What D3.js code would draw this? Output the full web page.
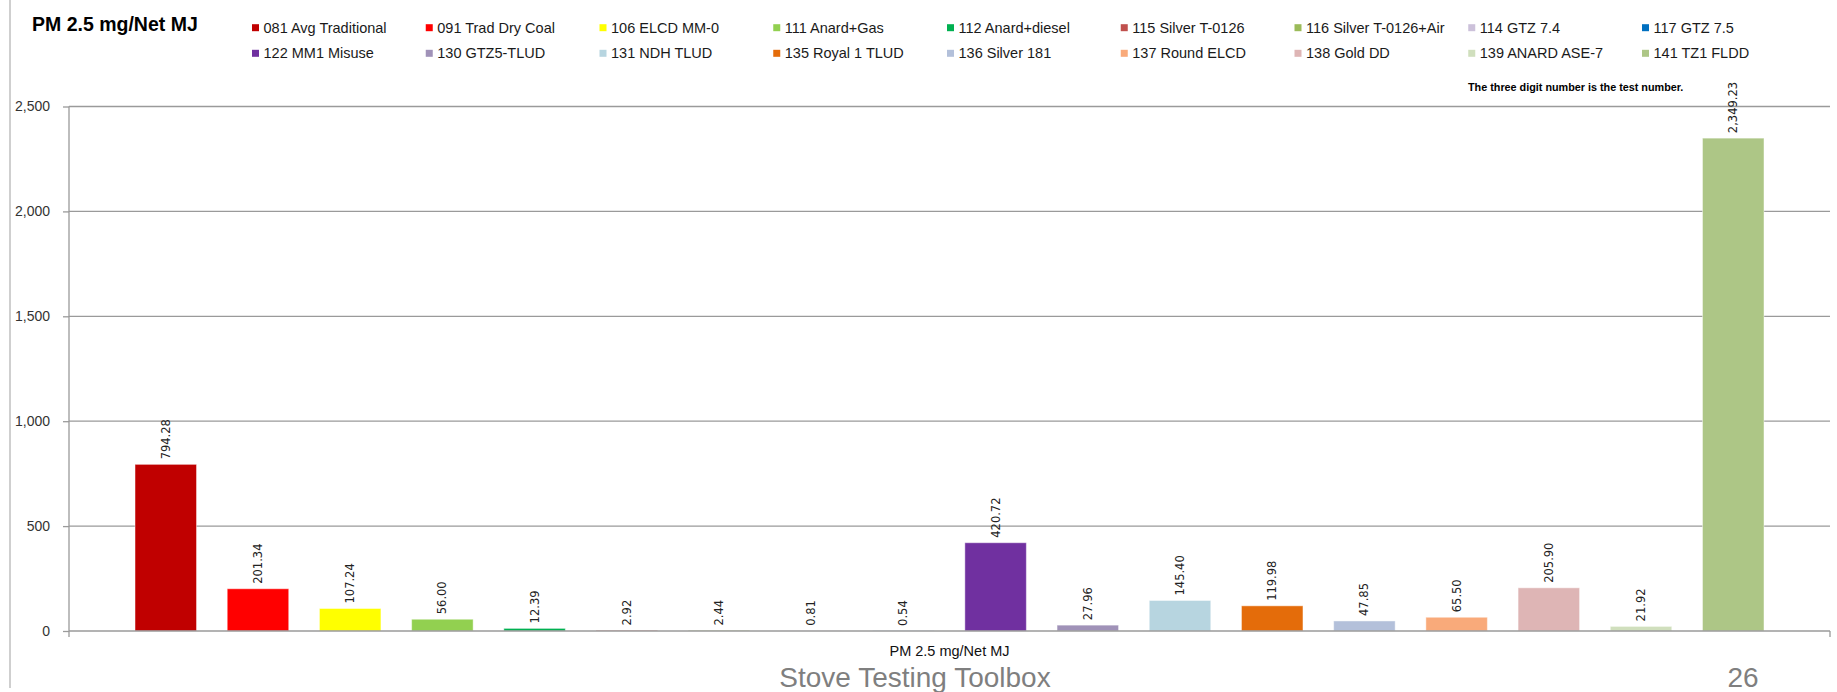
<!DOCTYPE html>
<html>
<head>
<meta charset="utf-8">
<script src="https://cdn.jsdelivr.net/npm/d3@7/dist/d3.min.js"></script>
<style>
  html, body { margin: 0; padding: 0; background: #ffffff; }
  svg { display: block; }
  text { font-family: "Liberation Sans", Arial, sans-serif; }
</style>
</head>
<body>
<svg id="chart" width="1837" height="692"></svg>
<script>
// ---- data ----
const categories = [
  "081 Avg Traditional", "091 Trad Dry Coal", "106 ELCD MM-0", "111 Anard+Gas",
  "112 Anard+diesel", "115 Silver T-0126", "116 Silver T-0126+Air", "114 GTZ 7.4",
  "117 GTZ 7.5", "122 MM1 Misuse", "130 GTZ5-TLUD", "131 NDH TLUD",
  "135 Royal 1 TLUD", "136 Silver 181", "137 Round ELCD", "138 Gold DD",
  "139 ANARD ASE-7", "141 TZ1 FLDD"
];
const values = [
  794.28, 201.34, 107.24, 56.00,
  12.39, 2.92, 2.44, 0.81,
  0.54, 420.72, 27.96, 145.40,
  119.98, 47.85, 65.50, 205.90,
  21.92, 2349.23
];
const colors = [
  "#C00000", "#FF0000", "#FFFF00", "#92D050",
  "#00B050", "#C0504D", "#9BBB59", "#CCC1DA",
  "#0070C0", "#7030A0", "#A092B8", "#B7D5E0",
  "#E46C0A", "#B3C0DA", "#F9AA7A", "#DEB5B5",
  "#D0DFBD", "#ADC686"
];
const yTicks = [0, 500, 1000, 1500, 2000, 2500];
const chartTitle = "PM 2.5 mg/Net MJ";
const xAxisLabel = "PM 2.5 mg/Net MJ";
const noteText = "The three digit  number is the test number.";
const footerText = "Stove Testing Toolbox";
const pageNumber = "26";

// ---- layout ----
const svg = d3.select("#chart");
const plot = { left: 69, right: 1830, top: 106.5, bottom: 631 };

const x = d3.scaleBand()
  .domain(categories)
  .range([plot.left, plot.right])
  .paddingInner(0.333)
  .paddingOuter(0.716);

const y = d3.scaleLinear()
  .domain([0, 2500])
  .range([plot.bottom, plot.top]);

const color = d3.scaleOrdinal().domain(categories).range(colors);

// slide border
svg.append("line")
  .attr("x1", 10).attr("x2", 10).attr("y1", 0).attr("y2", 688)
  .attr("stroke", "#bfbfbf").attr("stroke-width", 1.5);

// gridlines
svg.append("g")
  .selectAll("line")
  .data(yTicks.filter(d => d > 0))
  .join("line")
  .attr("x1", plot.left).attr("x2", plot.right)
  .attr("y1", d => y(d)).attr("y2", d => y(d))
  .attr("stroke", "#9a9a9a").attr("stroke-width", 1.3);

// y axis
const yAxis = d3.axisLeft(y)
  .tickValues(yTicks)
  .tickFormat(d3.format(","))
  .tickSize(6)
  .tickPadding(13);
const gy = svg.append("g")
  .attr("transform", `translate(${plot.left},0)`)
  .call(yAxis);
gy.select(".domain").remove();
gy.selectAll(".tick line").attr("stroke", "#9a9a9a").attr("stroke-width", 1.3);
gy.selectAll(".tick text")
  .attr("fill", "#333")
  .style("font-size", "14px")
  .style("font-family", "'Liberation Sans', Arial, sans-serif");
svg.append("line")
  .attr("x1", plot.left).attr("x2", plot.left)
  .attr("y1", plot.top).attr("y2", plot.bottom + 6)
  .attr("stroke", "#9a9a9a").attr("stroke-width", 1.3);

// bars
svg.append("g")
  .selectAll("rect")
  .data(categories)
  .join("rect")
  .attr("x", d => x(d))
  .attr("width", x.bandwidth())
  .attr("y", (d, i) => y(values[i]))
  .attr("height", (d, i) => y(0) - y(values[i]))
  .attr("fill", d => color(d))
  .attr("stroke", "rgba(255,255,255,0.45)")
  .attr("stroke-width", 1);

// x axis baseline
svg.append("line")
  .attr("x1", plot.left).attr("x2", plot.right)
  .attr("y1", y(0)).attr("y2", y(0))
  .attr("stroke", "#9a9a9a").attr("stroke-width", 1.3);
svg.append("line")
  .attr("x1", plot.right).attr("x2", plot.right)
  .attr("y1", y(0)).attr("y2", y(0) + 6)
  .attr("stroke", "#9a9a9a").attr("stroke-width", 1.3);

// data labels (rotated)
const fmt = d3.format(",.2f");
svg.append("g")
  .selectAll("text")
  .data(categories)
  .join("text")
  .attr("transform", (d, i) => `translate(${x(d) + x.bandwidth() / 2},${y(values[i]) - 5}) rotate(-90)`)
  .attr("dy", "0.35em")
  .attr("text-anchor", "start")
  .style("font-family", "'DejaVu Sans', Verdana, sans-serif")
  .style("font-size", "11.5px")
  .attr("fill", "#222")
  .text((d, i) => fmt(values[i]));

// x axis label
svg.append("text")
  .attr("x", (plot.left + plot.right) / 2)
  .attr("y", 656)
  .attr("text-anchor", "middle")
  .style("font-size", "14.5px")
  .attr("fill", "#111")
  .text(xAxisLabel);

// title
svg.append("text")
  .attr("x", 32).attr("y", 31)
  .style("font-size", "19.5px")
  .style("font-weight", "bold")
  .attr("fill", "#000")
  .text(chartTitle);

// legend
const legendCols = 9, colStep = 173.75, legendX0 = 252;
const rowY = [27.7, 53.3];
const lg = svg.append("g")
  .selectAll("g")
  .data(categories)
  .join("g")
  .attr("transform", (d, i) => `translate(${legendX0 + (i % legendCols) * colStep},${rowY[Math.floor(i / legendCols)]})`);
lg.append("rect")
  .attr("x", 0).attr("y", -3.5)
  .attr("width", 7).attr("height", 7)
  .attr("fill", d => color(d));
lg.append("text")
  .attr("x", 11.5).attr("y", 5)
  .style("font-size", "14.5px")
  .attr("fill", "#1a1a1a")
  .text(d => d);

// note
svg.append("text")
  .attr("x", 1468).attr("y", 90.5)
  .style("font-size", "10.8px")
  .style("font-weight", "bold")
  .attr("fill", "#000")
  .text(noteText);

// footer
svg.append("text")
  .attr("x", 915).attr("y", 687)
  .attr("text-anchor", "middle")
  .style("font-size", "28px")
  .attr("fill", "#7f7f7f")
  .text(footerText);
svg.append("text")
  .attr("x", 1743).attr("y", 687)
  .attr("text-anchor", "middle")
  .style("font-size", "28px")
  .attr("fill", "#7f7f7f")
  .text(pageNumber);
</script>
</body>
</html>
